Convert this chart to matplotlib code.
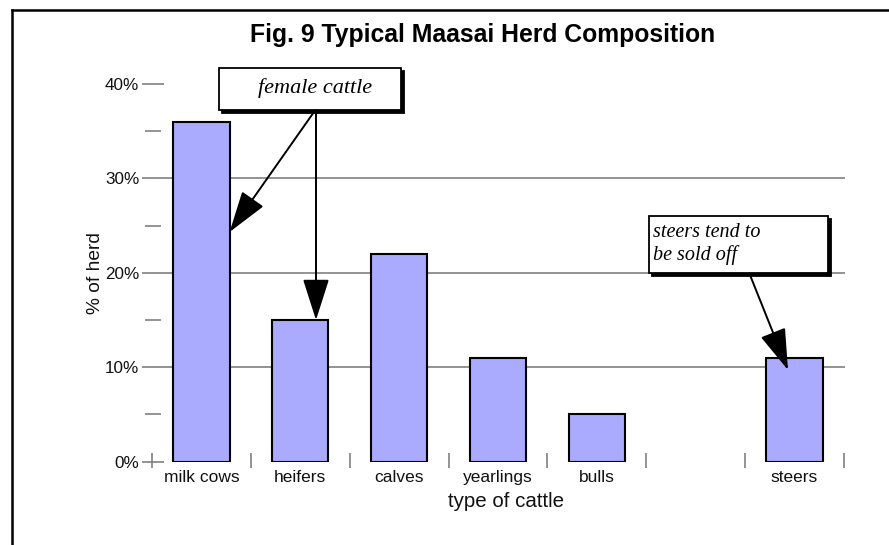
import matplotlib
matplotlib.use("Agg")
import matplotlib.pyplot as plt
from matplotlib.patches import Rectangle
from matplotlib.lines import Line2D
from matplotlib.transforms import offset_copy

# data (the blank slot is an empty gap on the axis)
categories = ["milk cows", "heifers", "calves", "yearlings", "bulls", "", "steers"]
share_pct = [36, 15, 22, 11, 5, 0, 11]
y_ticks = [0, 10, 20, 30, 40]
y_tick_labels = ["0%", "10%", "20%", "30%", "40%"]

BAR_COLOR = "#aaaaff"
GRID = "#808080"

plt.rcParams["font.family"] = ["Liberation Sans", "DejaVu Sans"]

fig = plt.figure(figsize=(8.89, 5.45), dpi=100)
W, H = 889, 545

# axes placed in pixel terms: x=0 at 152px, x=7 at 844px, y 0..40 -> 461.7..84px
slot = (844 - 152) / len(categories)
ax_l, ax_r = 142, 845
ax_b, ax_t = 461.7, 84
ax = fig.add_axes([ax_l / W, 1 - ax_b / H, (ax_r - ax_l) / W, (ax_b - ax_t) / H])
ax.set_xlim(-(152 - ax_l) / slot, len(categories) + (ax_r - 844) / slot)
ax.set_ylim(0, 40)
for s in ax.spines.values():
    s.set_visible(False)

# grid + hand-made tick marks
x0 = ax.get_xlim()[0]
ax.hlines([10, 20, 30], x0, ax.get_xlim()[1], color=GRID, lw=1.2, zorder=1)
ax.hlines([0, 40], x0, 0.12, color=GRID, lw=1.2, zorder=1, clip_on=False)
ax.hlines([5, 15, 25, 35], -0.07, 0.09, color=GRID, lw=1.2, zorder=1)
ax.vlines(range(len(categories) + 1), -0.7, 0.9, color=GRID, lw=1.2,
          zorder=1, clip_on=False)

# bars
for i, (cat, v) in enumerate(zip(categories, share_pct)):
    if cat:
        ax.bar(i + 0.5, v, width=0.57, color=BAR_COLOR, edgecolor="black",
               linewidth=1.5, zorder=3)

ax.set_yticks(y_ticks)
ax.set_yticklabels(y_tick_labels, fontsize=12.3)
ax.set_xticks([i + 0.5 for i in range(len(categories))])
ax.set_xticklabels(categories, fontsize=12.5)
ax.tick_params(axis="y", length=0, pad=2, labelcolor="#111111")
ax.tick_params(axis="x", length=0, pad=6, labelcolor="#111111")

ax.set_xlabel("type of cattle", fontsize=14.8, va="center", color="#111111")
ax.xaxis.set_label_coords((506 - ax_l) / (ax_r - ax_l), (ax_b - 501.7) / (ax_b - ax_t))
ax.set_ylabel("% of herd", fontsize=13.8, va="center", color="#111111")
ax.yaxis.set_label_coords((95 - ax_l) / (ax_r - ax_l), 0.5)

fig.text(483 / W, 1 - 42 / H, "Fig. 9 Typical Maasai Herd Composition",
         ha="center", va="baseline", fontsize=17.8, fontweight="bold")

# outer frame (top + left edges only visible)
fig.add_artist(Line2D([12 / W, 1], [1 - 10 / H, 1 - 10 / H], color="black", lw=1.8))
fig.add_artist(Line2D([12 / W, 12 / W], [1 - 10 / H, 0], color="black", lw=1.8))


def callout(x_left, x_right, y_bot, y_top):
    shadow = offset_copy(ax.transData, fig=fig, x=3, y=-3, units="dots")
    ax.add_patch(Rectangle((x_left, y_bot), x_right - x_left, y_top - y_bot,
                           facecolor="black", edgecolor="black", lw=1.3,
                           transform=shadow, zorder=5, clip_on=False))
    ax.add_patch(Rectangle((x_left, y_bot), x_right - x_left, y_top - y_bot,
                           facecolor="white", edgecolor="black", lw=1.3,
                           zorder=6, clip_on=False))


def arrow(start, tip):
    ax.annotate("", xy=tip, xytext=start,
                arrowprops=dict(arrowstyle="-|>,head_length=26,head_width=8.3",
                                mutation_scale=1, lw=1.4, color="black",
                                shrinkA=0, shrinkB=0),
                zorder=7, annotation_clip=False)


def px2d(px, py):
    return (px - 152) / slot, (ax_b - py) / ((ax_b - ax_t) / 40)


serif = ["Liberation Serif", "DejaVu Serif"]

# "female cattle" callout
bl = px2d(219, 110)
tr = px2d(400.7, 68.3)
callout(bl[0], tr[0], bl[1], tr[1])
ax.text(*px2d(315, 88.3), "female cattle", ha="center", va="center",
        fontsize=16, style="italic", family=serif, zorder=8)
arrow(px2d(315, 110.5), (0.5 + 0.285, px2d(0, 232)[1]))
arrow(px2d(316, 110.5), (px2d(316, 0)[0], share_pct[1]))

# "steers" callout
bl = px2d(649, 273.3)
tr = px2d(828, 215.7)
callout(bl[0], tr[0], bl[1], tr[1])
ax.text(*px2d(653, 244.2), "steers tend to\nbe sold off", ha="left", va="center",
        fontsize=14.5, style="italic", family=serif, zorder=8)
arrow(px2d(750, 275), (px2d(788, 0)[0], px2d(0, 370)[1]))

fig.savefig("out.png", dpi=100)
